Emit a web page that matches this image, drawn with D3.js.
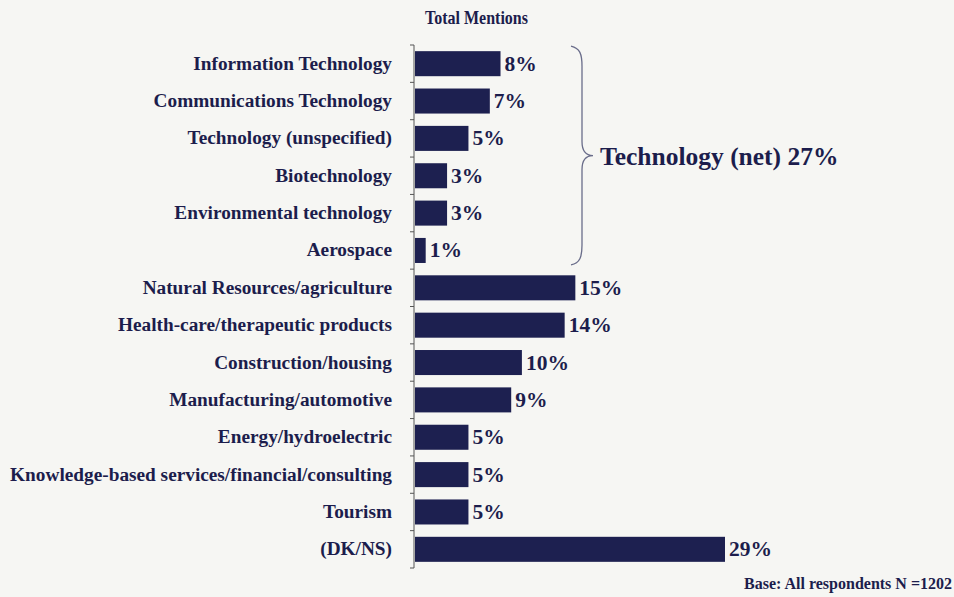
<!DOCTYPE html>
<html>
<head>
<meta charset="utf-8">
<script src="https://cdn.jsdelivr.net/npm/d3@7"></script>
<style>
  html, body { margin: 0; padding: 0; background: #f6f6f3; }
  svg { display: block; }
  text { font-family: "Liberation Serif", "Times New Roman", serif; font-weight: bold; }
</style>
</head>
<body>
<svg id="chart" width="954" height="597"></svg>
<script>
// Sectors mentioned, share of total mentions (%)
const categories = [
  "Information Technology",
  "Communications Technology",
  "Technology (unspecified)",
  "Biotechnology",
  "Environmental technology",
  "Aerospace",
  "Natural Resources/agriculture",
  "Health-care/therapeutic products",
  "Construction/housing",
  "Manufacturing/automotive",
  "Energy/hydroelectric",
  "Knowledge-based services/financial/consulting",
  "Tourism",
  "(DK/NS)"
];
const values = [8, 7, 5, 3, 3, 1, 15, 14, 10, 9, 5, 5, 5, 29];
const techGroup = categories.slice(0, 6);
const techNet = 27;
const titleText = "Total Mentions";
const baseNote = "Base: All respondents N =1202";

const ink = "#1c1d4c";
const barFill = "#1d2050";

const svg = d3.select("#chart");
const x0 = 414;
const plotTop = 45, plotBottom = 568;

const x = d3.scaleLinear().domain([0, 29]).range([x0, x0 + 310]);
const y = d3.scaleBand().domain(categories).range([plotTop, plotBottom]).paddingInner(0.33).paddingOuter(0.165);

// Title, set in a condensed cut
svg.append("text")
  .attr("x", 425).attr("y", 24)
  .attr("font-size", 19.5)
  .attr("textLength", 103)
  .attr("lengthAdjust", "spacingAndGlyphs")
  .attr("fill", ink)
  .text(titleText);

// Bars
svg.append("g").selectAll("rect")
  .data(categories)
  .join("rect")
  .attr("x", x(0) + 1)
  .attr("y", d => y(d))
  .attr("width", (d, i) => x(values[i]) - x(0))
  .attr("height", y.bandwidth())
  .attr("fill", barFill);

// Value labels
svg.append("g").selectAll("text")
  .data(categories)
  .join("text")
  .attr("x", (d, i) => x(values[i]) + 5)
  .attr("y", d => y(d) + y.bandwidth() / 2 + 7)
  .attr("font-size", 21.5)
  .attr("fill", ink)
  .text((d, i) => values[i] + "%");

// Category axis with boundary ticks
const step = y.step();
const axisG = svg.append("g");
axisG.append("line")
  .attr("x1", x0).attr("x2", x0)
  .attr("y1", plotTop).attr("y2", plotBottom)
  .attr("stroke", "#555").attr("stroke-width", 1);
axisG.selectAll("line.tick")
  .data(d3.range(categories.length + 1))
  .join("line")
  .attr("class", "tick")
  .attr("x1", x0 - 4).attr("x2", x0)
  .attr("y1", i => plotTop + i * step).attr("y2", i => plotTop + i * step)
  .attr("stroke", "#555");

axisG.selectAll("text")
  .data(categories)
  .join("text")
  .attr("x", 392)
  .attr("y", d => y(d) + y.bandwidth() / 2 + 6)
  .attr("text-anchor", "end")
  .attr("font-size", 19.3)
  .attr("fill", ink)
  .text(d => d);

// Brace grouping the technology rows
const bTop = y(techGroup[0]) - 5;
const bBot = y(techGroup[techGroup.length - 1]) + y.bandwidth() + 2;
const bMid = (bTop + bBot) / 2;
const bx = 582;
const bracePath = `M ${bx - 11} ${bTop}
  C ${bx - 2} ${bTop + 2}, ${bx} ${bTop + 8}, ${bx} ${bTop + 20}
  L ${bx} ${bMid - 14}
  C ${bx} ${bMid - 4}, ${bx + 4} ${bMid}, ${bx + 11} ${bMid}
  C ${bx + 4} ${bMid}, ${bx} ${bMid + 4}, ${bx} ${bMid + 14}
  L ${bx} ${bBot - 20}
  C ${bx} ${bBot - 8}, ${bx - 2} ${bBot - 2}, ${bx - 11} ${bBot}`;
svg.append("path")
  .attr("d", bracePath)
  .attr("fill", "none")
  .attr("stroke", "#6a6d8a")
  .attr("stroke-width", 1.3);

svg.append("text")
  .attr("x", bx + 18)
  .attr("y", bMid + 9)
  .attr("font-size", 25.5)
  .attr("fill", ink)
  .text(`Technology (net) ${techNet}%`);

svg.append("text")
  .attr("x", 952).attr("y", 589)
  .attr("text-anchor", "end")
  .attr("font-size", 16)
  .attr("fill", ink)
  .text(baseNote);
</script>
</body>
</html>
